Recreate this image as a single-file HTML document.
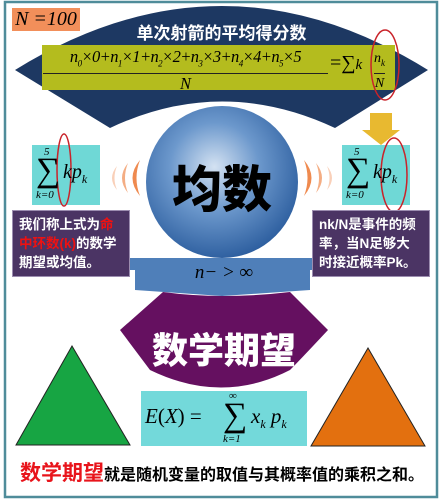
<!DOCTYPE html>
<html><head><meta charset="utf-8"><style>
body{margin:0;width:443px;height:500px;background:#fff;overflow:hidden;position:relative;font-family:"Liberation Sans","Noto Sans CJK SC",sans-serif}
.a{position:absolute}
.serif{font-family:"Liberation Serif","Noto Serif CJK SC",serif;font-style:italic}
.pb{background:#4b3464;color:#fff;font-weight:bold;font-size:13.5px;line-height:19px;padding:4px 6px;box-sizing:border-box;border:1px solid #9c8db0}
.lim{position:absolute;font-size:11px;font-family:"Liberation Serif",serif}
</style></head><body>
<svg class="a" style="left:0;top:0" width="443" height="500">
<defs><radialGradient id="sg" cx="0.45" cy="0.4" r="0.65"><stop offset="0" stop-color="#d4e2f2"/><stop offset="0.45" stop-color="#6c98cc"/><stop offset="1" stop-color="#26589a"/></radialGradient></defs>
<rect x="5" y="2" width="432" height="495" fill="none" stroke="#4f8c9a" stroke-width="2.5"/>
<path d="M15,70 Q222,-58 428,70 L335,128 Q222,75 110,128 Z" fill="#1d3862"/>
<rect x="42" y="45" width="353" height="45" fill="#b4bc1e"/>
<circle cx="222" cy="182" r="76" fill="url(#sg)"/>
<path d="M60,258 L385,258 L330,270 L310,270 L310,290 L222,296 L135,290 L135,270 L115,270 Z" fill="#4f7fb9"/>
<path d="M120,330 L163,292 Q222,300 290,292 L328,330 Q300,360 290,370 Q222,405 150,370 Z" fill="#651060"/>
<path d="M16,445 L72,346 L130,445 Z" fill="#17a543" stroke="#222"/>
<path d="M311,446 L368,348 L425,446 Z" fill="#e3700f" stroke="#222"/>
<rect x="141" y="391" width="166" height="55" fill="#73d9da"/>
<rect x="32" y="145" width="68" height="60" fill="#6fd8d6"/>
<rect x="342" y="145" width="68" height="60" fill="#6fd8d6"/>
<path d="M370,113 L392,113 L392,130 L400,130 L381,145 L362,130 L370,130 Z" fill="#e8b930"/>
<g fill="#ef8a4f"><path d="M140,160 Q125,178 140,196 Q133,178 140,160Z"/><path d="M128,163 Q116,178 128,193 Q122,178 128,163Z" opacity=".7"/><path d="M117,166 Q107,178 117,190 Q112,178 117,166Z" opacity=".4"/>
<path d="M304,160 Q319,178 304,196 Q311,178 304,160Z"/><path d="M316,163 Q328,178 316,193 Q322,178 316,163Z" opacity=".7"/><path d="M327,166 Q337,178 327,190 Q332,178 327,166Z" opacity=".4"/></g>
<g fill="none" stroke="#c9232a" stroke-width="1.5"><ellipse cx="385" cy="65" rx="14" ry="35"/><ellipse cx="64" cy="170" rx="7" ry="36"/><ellipse cx="394" cy="175" rx="13" ry="37"/></g>
</svg>
<div class="a serif" style="left:12px;top:8px;width:68px;height:23px;background:#f28f5a;font-size:20px;line-height:23px;text-align:center">N =100</div>
<div class="a" style="left:0;width:443px;top:19px;text-align:center;color:#fff;font-weight:bold;font-size:17px">单次射箭的平均得分数</div>
<div class="a serif" style="left:43px;top:47px;width:285px;font-size:16.5px;text-align:center;line-height:20px"><div style="border-bottom:1px solid #222;white-space:nowrap;letter-spacing:-0.6px">n<sub style="font-size:9px">0</sub>×0+n<sub style="font-size:9px">1</sub>×1+n<sub style="font-size:9px">2</sub>×2+n<sub style="font-size:9px">3</sub>×3+n<sub style="font-size:9px">4</sub>×4+n<sub style="font-size:9px">5</sub>×5</div><div>N</div></div>
<div class="a serif" style="left:330px;top:52px;font-size:20px;font-style:normal">=∑<i style="font-size:15px">k</i></div>
<div class="a serif" style="left:374px;top:49px;font-size:14px;text-align:center;line-height:19px"><div style="border-bottom:1px solid #222">n<sub style="font-size:9px">k</sub></div>N</div>
<div class="a serif" style="left:36px;top:145px;width:70px;height:60px"><span class="lim" style="left:8px;top:1px">5</span><span style="position:absolute;left:0;top:6px;font-size:34px;font-style:normal;line-height:40px">∑</span><span style="position:absolute;left:27px;top:16px;font-size:20px">kp<sub style="font-size:12px">k</sub></span><span class="lim" style="left:0;top:44px;font-style:italic">k=0</span></div>
<div class="a serif" style="left:346px;top:145px;width:70px;height:60px"><span class="lim" style="left:8px;top:1px">5</span><span style="position:absolute;left:0;top:6px;font-size:34px;font-style:normal;line-height:40px">∑</span><span style="position:absolute;left:27px;top:16px;font-size:20px">kp<sub style="font-size:12px">k</sub></span><span class="lim" style="left:0;top:44px;font-style:italic">k=0</span></div>
<div class="a" style="left:146px;top:150px;width:152px;text-align:center;font-size:50px;font-weight:900;color:#000">均数</div>
<div class="a pb" style="left:12px;top:210px;width:118px;height:67px">我们称上式为<span style="color:#e11">命中环数(k)</span>的数学期望或均值。</div>
<div class="a pb" style="left:312px;top:210px;width:118px;height:67px">nk/N是事件的频率，当N足够大时接近概率Pk。</div>
<div class="a serif" style="left:143px;top:262px;width:162px;text-align:center;font-size:19px">n− &gt; ∞</div>
<div class="a" style="left:120px;top:322px;width:208px;text-align:center;font-size:36px;font-weight:900;color:#fff">数学期望</div>
<div class="a serif" style="left:145px;top:392px;width:165px;height:55px;font-style:normal"><span style="position:absolute;left:0;top:12px;font-size:21px"><i>E</i>(<i>X</i>) =</span><span class="lim" style="left:84px;top:-2px">∞</span><span style="position:absolute;left:78px;top:4px;font-size:34px;line-height:40px">∑</span><span class="lim" style="left:78px;top:41px;font-style:italic">k=1</span><span style="position:absolute;left:106px;top:12px;font-size:21px;font-style:italic">x<sub style="font-size:12px">k</sub> p<sub style="font-size:12px">k</sub></span></div>
<div class="a" style="left:20px;top:457px;width:415px;white-space:nowrap;font-weight:bold;font-size:16px"><span style="color:#e8141b;font-size:21px">数学期望</span>就是随机变量的取值与其概率值的乘积之和。</div>
</body></html>
